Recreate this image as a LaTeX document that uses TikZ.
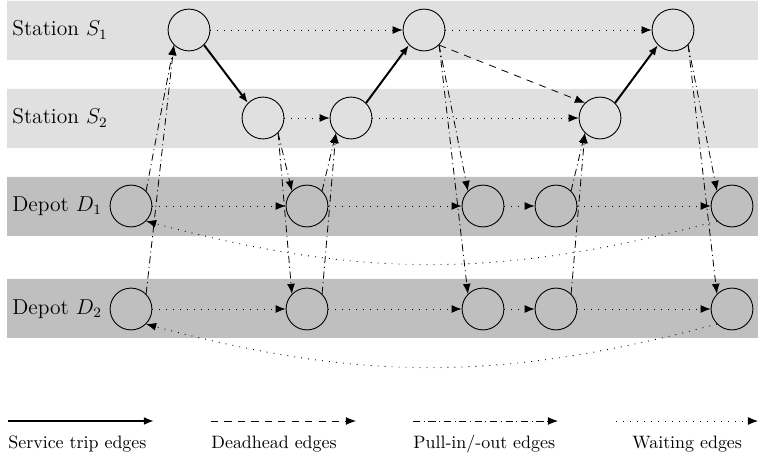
\documentclass[tikz,border=0pt]{standalone}
\usetikzlibrary{arrows.meta}
\begin{document}
\begin{tikzpicture}[x=0.0196cm,y=-0.0196cm,>={Latex[length=5.6pt,width=4.4pt]},
	vtx/.style={draw,circle,line width=0.5pt,minimum size=0.82cm,inner sep=0pt},
	row/.style={anchor=west,font=\large},
	trip/.style={->,line width=1.1pt},
	dead/.style={->,line width=0.45pt,dash pattern=on 4pt off 3.5pt},
	pull/.style={->,line width=0.45pt,dash pattern=on 4pt off 2pt on 0.6pt off 2pt},
	wait/.style={->,line width=0.5pt,dash pattern=on 0.5pt off 3.4pt}]
	\useasboundingbox (0,0) rectangle (758,458);
	% bands
	\fill[black!12] (7,1) rectangle (758,60) (7,89) rectangle (758,148);
	\fill[black!25] (7,177) rectangle (758,236) (7,279) rectangle (758,338);
	\node[row] (ls1) at (6,30) {Station $S_1$};
	\node[row] (ls2) at (6,118) {Station $S_2$};
	\node[row] (ld1) at (6,206) {Depot $D_1$};
	\node[row] (ld2) at (6,309) {Depot $D_2$};
	% stations
	\node[vtx] (s1a) at (189,30) {};
	\node[vtx] (s1b) at (424,30) {};
	\node[vtx] (s1c) at (673,30) {};
	\node[vtx] (s2a) at (263,118) {};
	\node[vtx] (s2b) at (351,118) {};
	\node[vtx] (s2c) at (600,118) {};
	% depots
	\foreach \r/\y in {1/206,2/309} {
		\node[vtx] (d\r a) at (131,\y) {};
		\node[vtx] (d\r b) at (307,\y) {};
		\node[vtx] (d\r c) at (483,\y) {};
		\node[vtx] (d\r d) at (556,\y) {};
		\node[vtx] (d\r e) at (732,\y) {};
		\path[wait] (d\r a) edge (d\r b) (d\r b) edge (d\r c) (d\r c) edge (d\r d) (d\r d) edge (d\r e);
		\draw[wait] (d\r e.south west) to[bend left=15] (d\r a.south east);
		\draw[pull] (d\r a.north east) -- (s1a.south west);
		\draw[pull] (s2a.south east) -- (d\r b.north west);
		\draw[pull] (d\r b.north east) -- (s2b.south west);
		\draw[pull] (s1b.south east) -- (d\r c.north west);
		\draw[pull] (d\r d.north east) -- (s2c.south west);
		\draw[pull] (s1c.south east) -- (d\r e.north west);
	}
	\path[wait] (s1a) edge (s1b) (s1b) edge (s1c) (s2a) edge (s2b) (s2b) edge (s2c);
	\draw[trip] (s1a.south east) -- (s2a.north west);
	\draw[trip] (s2b.north east) -- (s1b.south west);
	\draw[trip] (s2c.north east) -- (s1c.south west);
	\draw[dead] (s1b.south east) -- (s2c.north west);
	% legend
	\coordinate (k1a) at (8,421);   \coordinate (k1b) at (154,421);
	\coordinate (k2a) at (211,421); \coordinate (k2b) at (356,421);
	\coordinate (k3a) at (413,421); \coordinate (k3b) at (558,421);
	\coordinate (k4a) at (616,421); \coordinate (k4b) at (758,421);
	\draw[trip] (k1a) -- (k1b);
	\draw[dead] (k2a) -- (k2b);
	\draw[pull] (k3a) -- (k3b);
	\draw[wait] (k4a) -- (k4b);
	\node[anchor=base west,inner sep=0pt] (t1) at (8,448) {Service trip edges};
	\node[anchor=base west,inner sep=0pt] (t2) at (211,448) {Deadhead edges};
	\node[anchor=base west,inner sep=0pt] (t3) at (413,448) {Pull-in/-out edges};
	\node[anchor=base west,inner sep=0pt] (t4) at (632,448) {Waiting edges};
\end{tikzpicture}
\end{document}
